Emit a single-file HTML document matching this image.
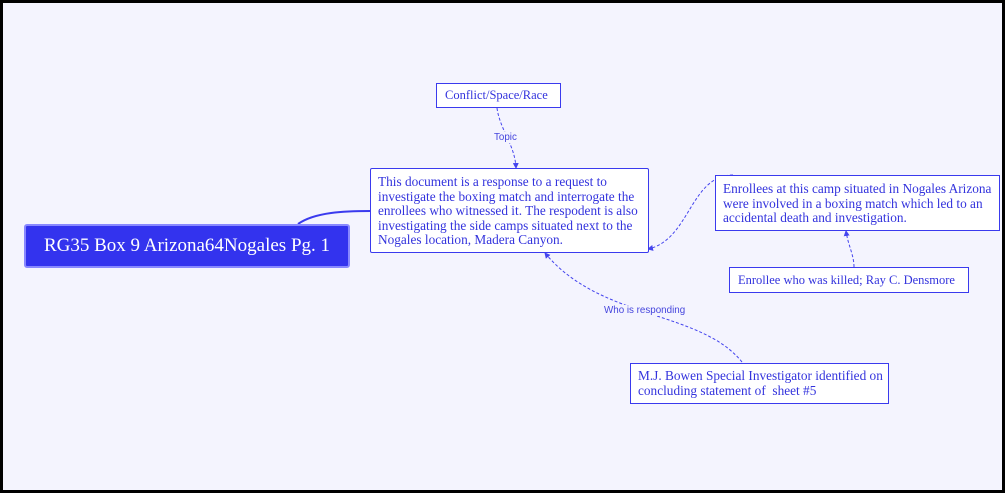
<!DOCTYPE html>
<html><head><meta charset="utf-8"><style>
html,body{margin:0;padding:0}
body{width:1005px;height:493px;position:relative;overflow:hidden;background:#f4f4fe;font-family:"Liberation Serif",serif;}
.frame{position:absolute;left:0;top:0;width:999px;height:487px;border:3px solid #000;}
.b{position:absolute;box-sizing:border-box;border:1.5px solid #3a3aee;background:#fff;color:#3333dd;font-size:13.3px;line-height:14.5px;white-space:nowrap;}
.lbl{position:absolute;font-family:"Liberation Sans",sans-serif;font-size:9.8px;color:#4444dd;background:#f4f4fe;}
</style></head><body>
<div class="frame"></div>
<svg width="1005" height="493" style="position:absolute;left:0;top:0">
<defs><marker id="a" markerWidth="6" markerHeight="6" refX="5" refY="3" orient="auto"><path d="M0,0L6,3L0,6z" fill="#4444ee"/></marker></defs>
<path d="M298,224 C315,212 345,211 371,211" stroke="#3a3aee" stroke-width="2" fill="none"/>
<g stroke="#4444ee" stroke-width="1" fill="none" stroke-dasharray="3,2">
<path d="M497,108 C500,130 515,145 516,168" marker-end="url(#a)"/>
<path d="M733,175 C690,175 690,240 648,249" marker-end="url(#a)"/>
<path d="M854,267 C854,255 848,245 846,231" marker-end="url(#a)"/>
<path d="M742,362 C700,310 600,320 545,253" marker-end="url(#a)"/>
</g>
</svg>
<div class="b" style="left:24px;top:224px;width:326px;height:44px;background:#3333ee;border:2px solid #8888ff;border-radius:3px;color:#fff;font-size:19px;line-height:40px;text-align:center">RG35 Box 9 Arizona64Nogales Pg. 1</div>
<div class="b" style="left:370px;top:168px;width:279px;height:85px;padding:6px 0 0 7px;border-radius:2px">This document is a response to a request to<br>investigate the boxing match and interrogate the<br>enrollees who witnessed it. The respodent is also<br>investigating the side camps situated next to the<br>Nogales location, Madera Canyon.</div>
<div class="b" style="left:436px;top:83px;width:125px;height:25px;padding:4px 0 0 8px;font-size:12.5px">Conflict/Space/Race</div>
<div class="b" style="left:715px;top:175px;width:285px;height:56px;padding:6px 0 0 7px">Enrollees at this camp situated in Nogales Arizona<br>were involved in a boxing match which led to an<br>accidental death and investigation.</div>
<div class="b" style="left:729px;top:267px;width:240px;height:26px;padding:5px 0 0 8px;font-size:12.5px">Enrollee who was killed; Ray C. Densmore</div>
<div class="b" style="left:630px;top:363px;width:259px;height:41px;padding:5px 0 0 7px">M.J. Bowen Special Investigator identified on<br>concluding statement of&nbsp; sheet #5</div>
<div class="lbl" style="left:494px;top:132px">Topic</div>
<div class="lbl" style="left:604px;top:305px">Who is responding</div>
</body></html>
